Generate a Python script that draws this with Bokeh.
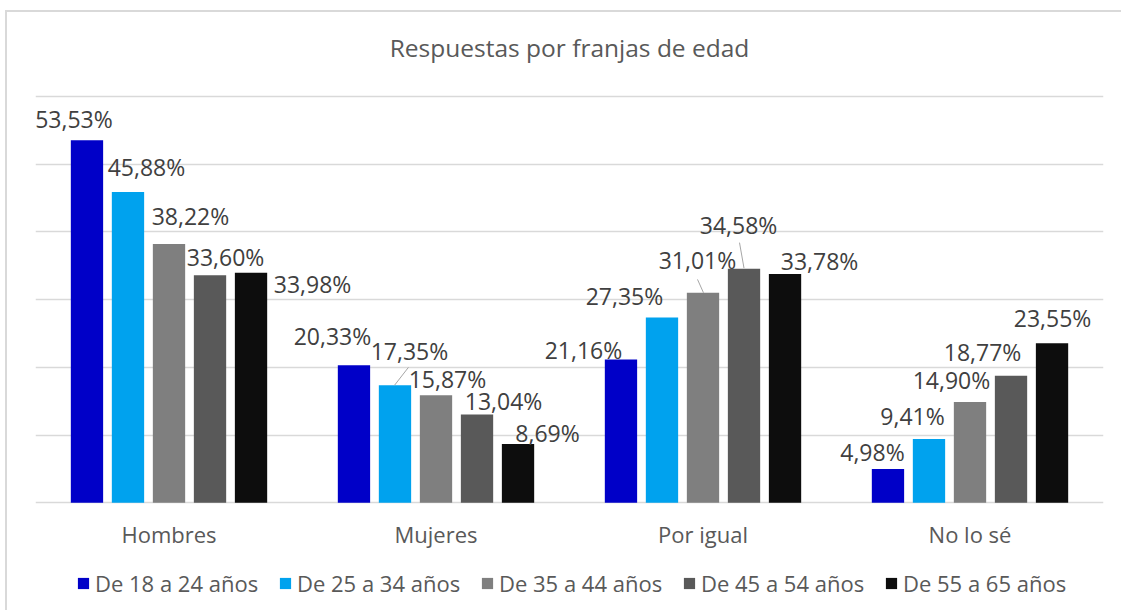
from bokeh.plotting import figure
from bokeh.models import ColumnDataSource, FactorRange, FixedTicker, Legend, LegendItem
from bokeh.transform import dodge
from bokeh.core.properties import value
from bokeh.embed import file_html
from bokeh.resources import INLINE

# ---------------- data ----------------
title_text = "Respuestas por franjas de edad"
categories = ["Hombres", "Mujeres", "Por igual", "No lo sé"]
series_names = ["De 18 a 24 años", "De 25 a 34 años", "De 35 a 44 años",
                "De 45 a 54 años", "De 55 a 65 años"]
v_18_24 = [53.53, 20.33, 21.16, 4.98]
v_25_34 = [45.88, 17.35, 27.35, 9.41]
v_35_44 = [38.22, 15.87, 31.01, 14.90]
v_45_54 = [33.60, 13.04, 34.58, 18.77]
v_55_65 = [33.98, 8.69, 33.78, 23.55]
y_ticks = [0, 10, 20, 30, 40, 50, 60]

# ---------------- styles ----------------
colors = ["#0000C8", "#00A2EE", "#7F7F7F", "#595959", "#0D0D0D"]
FONT = "Open Sans"
TEXT_GREY = "#595959"
LABEL_GREY = "#404040"
GRID = "#D9D9D9"

# label offsets in pixels (dx to the right, dy upwards) from each bar's top centre
label_dx = [[-13, -21.5, -37.5, -15.5],
            [18.5, 14.5, -37.5, -16.5],
            [21.5, 11.5, -5.5, -18.5],
            [15.5, 26.5, -5.5, -28.5],
            [61.5, 29.5, 34.5, 0.5]]
label_dy = [[21, 28.7, 10, 16.6],
            [25, 34.8, 22, 22.6],
            [28, 16, 32.4, 22.4],
            [18, 13, 44, 24],
            [-11, 10.5, 12.6, 25]]
# leader lines: (series, category, start dx, start dy, end dx, end dy) in pixels
leaders = [(1, 1, -0.5, 0, 13.5, 18),
           (2, 2, 0.5, 0, -5.5, 13.4),
           (3, 2, 0, 0.5, -4.5, 26)]

values = [v_18_24, v_25_34, v_35_44, v_45_54, v_55_65]

# ---------------- layout ----------------
W, H = 1116, 600
LEFT, RIGHT = 28, 20
TOP60 = 84               # pixel row of the 60 % gridline
PLOT_H = 406.3           # pixel height of the 0..60 % band
frame_w = W - LEFT - RIGHT
px_per_cat = frame_w / len(categories)
px_per_pct = PLOT_H / 60.0
y_end = 60 + TOP60 / px_per_pct
y_start = 60 - (H - TOP60) / px_per_pct

step = 0.1536
bar_w = 0.121
offsets = [(i - 2) * step for i in range(5)]

p = figure(x_range=FactorRange(*categories, range_padding=0), y_range=(y_start, y_end),
           width=W, height=H, output_backend="svg", toolbar_location=None,
           min_border_left=LEFT, min_border_right=RIGHT,
           min_border_top=0, min_border_bottom=0,
           styles={"border-top": "2px solid #D9D9D9", "border-left": "2px solid #D9D9D9",
                   "margin-left": "5px", "margin-top": "10px"})

p.outline_line_color = None
p.xgrid.grid_line_color = None
p.ygrid.ticker = FixedTicker(ticks=y_ticks)
p.ygrid.grid_line_color = GRID
p.ygrid.grid_line_width = 1.5
p.yaxis.visible = False
p.xaxis.visible = False

# title
p.text(x=[len(categories) / 2], y=[60], text=[title_text], y_offset=-49,
       text_font=value(FONT), text_font_size="24.5px", text_color=TEXT_GREY,
       text_align="center", text_baseline="middle")

items = []
for s, vals in enumerate(values):
    src = ColumnDataSource(dict(
        cat=categories, val=vals,
        txt=[f"{v:.2f}".replace(".", ",") + "%" for v in vals],
        xo=label_dx[s], yo=[-d for d in label_dy[s]],
    ))
    r = p.vbar(x=dodge("cat", offsets[s], range=p.x_range), top="val", width=bar_w,
               source=src, fill_color=colors[s], line_color=None)
    p.text(x=dodge("cat", offsets[s], range=p.x_range), y="val", text="txt",
           x_offset="xo", y_offset="yo", source=src,
           text_font=value(FONT), text_font_size="23px", text_color=LABEL_GREY,
           text_align="center", text_baseline="middle")
    items.append(LegendItem(label=series_names[s], renderers=[r]))

# category labels under the baseline
cat_src = ColumnDataSource(dict(cat=categories, y=[0] * len(categories)))
p.text(x="cat", y="y", text="cat", source=cat_src, y_offset=31,
       text_font=value(FONT), text_font_size="22px", text_color=TEXT_GREY,
       text_align="center", text_baseline="middle")

# leader lines
x0s, y0s, x1s, y1s = [], [], [], []
for s, c, sdx, sdy, edx, edy in leaders:
    xc = c + 0.5 + offsets[s]
    v = values[s][c]
    x0s.append(xc + sdx / px_per_cat)
    y0s.append(v + sdy / px_per_pct)
    x1s.append(xc + edx / px_per_cat)
    y1s.append(v + edy / px_per_pct)
p.segment(x0=x0s, y0=y0s, x1=x1s, y1=y1s, line_color="#A6A6A6", line_width=1)

legend = Legend(items=items, orientation="horizontal", location=(41, 14),
                glyph_width=14, glyph_height=14, label_standoff=5, spacing=19,
                label_width=164, padding=0, margin=0,
                label_text_font=FONT, label_text_font_size="22px",
                label_text_color=TEXT_GREY, border_line_color=None,
                background_fill_alpha=0)
p.add_layout(legend)

open("out.html", "w").write(file_html(p, INLINE))
